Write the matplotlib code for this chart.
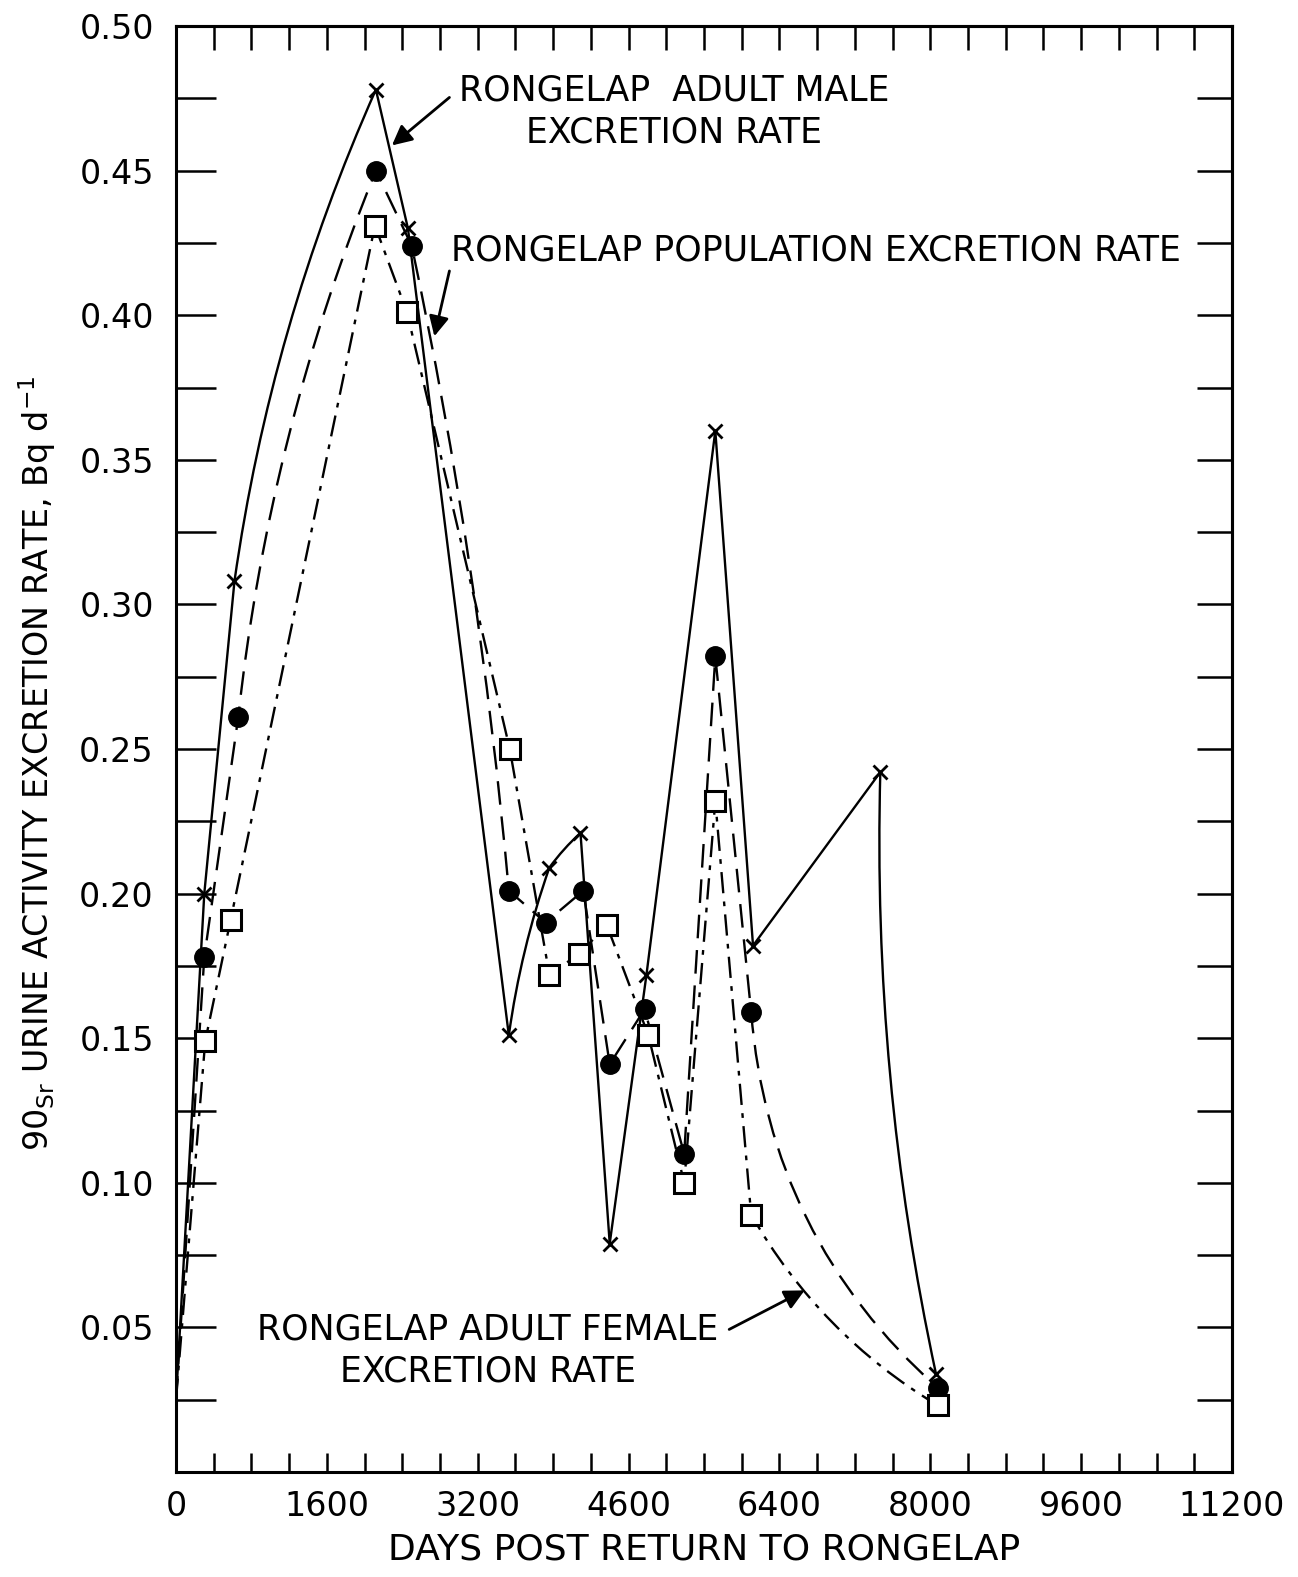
import numpy as np
import matplotlib
matplotlib.use("Agg")
import matplotlib.pyplot as plt
from matplotlib.path import Path
from matplotlib.patches import PathPatch

# days post return / 90Sr urine excretion rate (Bq/d)
start_day = 0
start_rate = 0.025

male_days = [300, 620, 2120, 2460, 3530, 3960, 4290, 4600, 4990, 5720, 6120, 7470, 8060]
male_rate = [0.200, 0.308, 0.478, 0.430, 0.151, 0.209, 0.221, 0.079, 0.172, 0.360, 0.182, 0.242, 0.034]

pop_days = [300, 660, 2120, 2500, 3530, 3920, 4320, 4600, 4970, 5390, 5720, 6100, 8080]
pop_rate = [0.178, 0.261, 0.450, 0.424, 0.201, 0.190, 0.201, 0.141, 0.160, 0.110, 0.282, 0.159, 0.029]

fem_days = [310, 580, 2110, 2450, 3540, 3960, 4270, 4570, 5010, 5390, 5720, 6100, 8080]
fem_rate = [0.149, 0.191, 0.431, 0.401, 0.250, 0.172, 0.179, 0.189, 0.151, 0.100, 0.232, 0.089, 0.023]

x_ticks = np.arange(0, 11201, 400)
x_labels = ['0', '1600', '3200', '4600', '6400', '8000', '9600', '11200']  # '4600' as printed
y_ticks = np.arange(0, 0.5001, 0.025)
y_labels = ['0.05', '0.10', '0.15', '0.20', '0.25', '0.30', '0.35', '0.40', '0.45', '0.50']

# hand-drawn look: how much some segments bow (segment index -> bend)
male_bend = {2: 0.07, 5: 0.05, 6: 0.05, 12: -0.06}
pop_bend = {2: 0.07, 4: 0.03, 12: -0.2}
fem_bend = {12: -0.13}

XMAX, YMAX = 11200, 0.5
W_PX, H_PX = 1056, 1446


def bowed_path(days, rates, bends):
    X = np.asarray(days) / XMAX * W_PX
    Y = np.asarray(rates) / YMAX * H_PX
    verts = [(days[0], rates[0])]
    codes = [Path.MOVETO]
    for i in range(len(days) - 1):
        b = bends.get(i, 0)
        if b:
            dx, dy = X[i + 1] - X[i], Y[i + 1] - Y[i]
            cx = (X[i] + X[i + 1]) / 2 - b * dy
            cy = (Y[i] + Y[i + 1]) / 2 + b * dx
            verts += [(cx / W_PX * XMAX, cy / H_PX * YMAX), (days[i + 1], rates[i + 1])]
            codes += [Path.CURVE3, Path.CURVE3]
        else:
            verts.append((days[i + 1], rates[i + 1]))
            codes.append(Path.LINETO)
    return Path(verts, codes)


plt.rcParams['font.family'] = ['DejaVu Sans']

fig = plt.figure(figsize=(12.98, 15.77), dpi=100)
ax = fig.add_axes([176/1298, 1 - 1472/1577, (1232 - 176)/1298, (1472 - 26)/1577])
ax.set_xlim(0, XMAX)
ax.set_ylim(0, YMAX)

lw = 1.7
series = [
    (male_days, male_rate, male_bend, '-', dict(marker='x', markersize=10, mew=2, color='black'), 3),
    (pop_days, pop_rate, pop_bend, (0, (10, 5)), dict(marker='o', markersize=14, color='black'), 4),
    (fem_days, fem_rate, fem_bend, (0, (9, 3.5, 2, 3.5)),
     dict(marker='s', markersize=15, mfc='white', mec='black', mew=2.2), 5),
]
for days, rates, bends, ls, mk, z in series:
    path = bowed_path([start_day] + days, [start_rate] + rates, bends)
    ax.add_patch(PathPatch(path, fill=False, ec='black', lw=lw, ls=ls, zorder=z))
    ax.plot(days, rates, ls='none', zorder=z + 0.5, **mk)

# ticks
ax.set_xticks(x_ticks)
ax.set_xticklabels([x_labels[i // 4] if i % 4 == 0 else '' for i in range(len(x_ticks))], fontsize=24)
ax.set_yticks(y_ticks)
ax.set_yticklabels([''] + [y_labels[(i - 2) // 2] if i % 2 == 0 else '' for i in range(1, len(y_ticks))],
                   fontsize=24)
ax.tick_params(axis='x', direction='in', length=14, width=1.8, pad=13)
ax.tick_params(axis='y', direction='in', length=29, width=1.8, pad=16)

top = ax.secondary_xaxis('top')
top.set_xticks(x_ticks)
top.set_xticklabels([])
top.tick_params(direction='in', length=17, width=1.8)
right = ax.secondary_yaxis('right')
right.set_yticks(y_ticks)
right.set_yticklabels([])
right.tick_params(direction='in', length=25, width=1.8)

for a in (ax, top, right):
    for s in a.spines.values():
        s.set_linewidth(2.2)

ax.set_xlabel('DAYS POST RETURN TO RONGELAP', fontsize=26)
ax.xaxis.set_label_coords(0.5, -0.042)
ax.set_ylabel('90$_{\\mathregular{Sr}}$ URINE ACTIVITY EXCRETION RATE, Bq d$^{-1}$', fontsize=24)
ax.yaxis.set_label_coords(-0.112, 0.49)

# annotations
txt = dict(fontsize=25, ha='center', va='center', linespacing=1.3)
arr = dict(arrowstyle='-|>', lw=2, color='black', mutation_scale=30, shrinkA=0, shrinkB=0)
ax.text(5280, 0.4705, 'RONGELAP  ADULT MALE\nEXCRETION RATE', **txt)
ax.annotate('', xy=(2290, 0.4587), xytext=(2900, 0.4753), arrowprops=arr)
ax.text(6784, 0.4222, 'RONGELAP POPULATION EXCRETION RATE', **txt)
ax.annotate('', xy=(2740, 0.3927), xytext=(2900, 0.4153), arrowprops=arr)
ax.text(3307, 0.042, 'RONGELAP ADULT FEMALE\nEXCRETION RATE', **txt)
ax.annotate('', xy=(6667, 0.0628), xytext=(5867, 0.0493), arrowprops=arr)

plt.savefig('out.png', dpi=100)
